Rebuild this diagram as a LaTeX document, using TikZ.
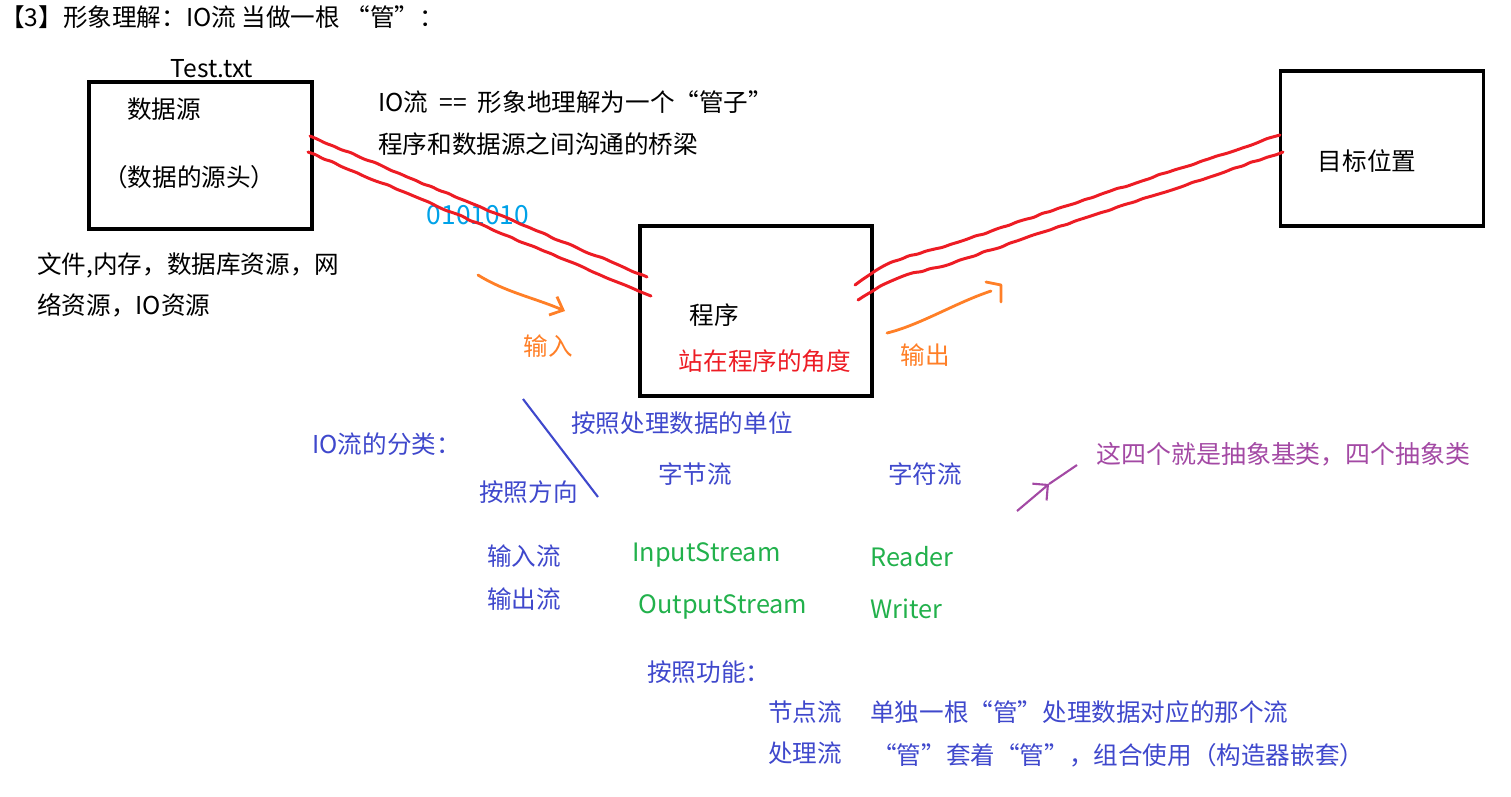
\documentclass[tikz,border=0pt]{standalone}
\usepackage{fontspec}
\setmainfont{Noto Sans CJK SC}
\usepackage{tikz}
\usetikzlibrary{arrows.meta, decorations.pathmorphing}

\definecolor{pipered}{RGB}{237,28,36}
\definecolor{flow}{RGB}{255,127,39}
\definecolor{bitcyan}{RGB}{0,162,232}
\definecolor{indigo}{RGB}{63,72,204}
\definecolor{grass}{RGB}{34,177,76}
\definecolor{plum}{RGB}{163,73,164}

\begin{document}
\pgfmathsetseed{5}
\begin{tikzpicture}[
    x=0.02cm, y=-0.02cm,
    box/.style={draw, rectangle, line width=2pt, inner sep=0pt},
    txt/.style={inner sep=0pt, anchor=west, font=\fontsize{14pt}{17pt}\selectfont},
    ctxt/.style={txt, anchor=center},
    cls/.style={txt, text=indigo},
    api/.style={txt, text=grass, font=\fontsize{14.4pt}{17pt}\selectfont},
    pipe/.style={pipered, line width=1.7pt, line cap=round, decorate,
        decoration={random steps, segment length=5pt, amplitude=0.45pt}, rounded corners=1.5pt},
    hand/.style={flow, line width=1.6pt, line cap=round, line join=round}
]
\useasboundingbox (0,0) rectangle (1511,796);

% Title
\node[txt] (title) at (0,17) {【3】形象理解：IO流 当做一根 “管”：};

% Boxes
\node[box, minimum width=4.46cm, minimum height=2.94cm] (src) at (200.5,155.5) {};
\node[box, minimum width=4.64cm, minimum height=3.4cm] (prog) at (756,311) {};
\node[box, minimum width=4.06cm, minimum height=3.1cm] (dest) at (1382,148.5) {};

\node[ctxt] (testtxt) at (212,69) {Test.txt};
\node[ctxt] (srcname) at (164,109) {数据源};
\node[txt] (srcnote) at (103,177) {（数据的源头）};
\node[ctxt] (progname) at (714,315) {程序};
\node[ctxt, text=pipered] (view) at (765,361) {站在程序的角度};
\node[ctxt] (destname) at (1367,161) {目标位置};

% Notes
\node[txt] (kinds1) at (37,265) {文件,内存，数据库资源，网};
\node[txt] (kinds2) at (37,305) {络资源，IO资源};
\node[txt] (pipe1) at (378,102) {IO流\hspace{0.45em}==\hspace{0.45em}形象地理解为一个“管子”};
\node[txt] (pipe2) at (378,144) {程序和数据源之间沟通的桥梁};
\node[ctxt, text=bitcyan, font=\fontsize{15pt}{17pt}\selectfont] (bits) at (478,215) {0101010};
\node[ctxt, text=flow] (inlabel) at (548,346) {输入};
\node[ctxt, text=flow] (outlabel) at (925,355) {输出};

% Pipes
\coordinate (s1) at (310,136); \coordinate (p1) at (647,277);
\coordinate (s2) at (308,152); \coordinate (p2) at (651,296);
\coordinate (q1) at (855,285); \coordinate (t1) at (1280,135);
\coordinate (q2) at (858,300); \coordinate (t2) at (1283,152);
\draw[pipe] (s1) -- (p1);
\draw[pipe] (s2) -- (p2);
\draw[pipe] (q1) .. controls (875,270) and (895,258) .. (940,248) -- (t1);
\draw[pipe] (q2) .. controls (875,288) and (900,275) .. (940,267) -- (t2);

% Direction arrows
\coordinate (ina) at (478,275); \coordinate (inb) at (565,311);
\coordinate (outa) at (887,333); \coordinate (outb) at (991,291);
\draw[hand, -{Straight Barb[length=2.2mm, width=4mm]}] (ina) .. controls (505,292) and (535,298) .. (inb);
\draw[hand] (outa) .. controls (920,325) and (955,303) .. (outb);
\draw[hand] (986,282) -- (1001,285) -- (1001,302);

% Classification
\node[cls] (io) at (312,444) {IO流的分类：};
\node[cls] (byunit) at (571,423) {按照处理数据的单位};
\node[cls] (bydir) at (479,492) {按照方向};
\node[cls, anchor=center] (bytes) at (695,474) {字节流};
\node[cls, anchor=center] (chars) at (925,474) {字符流};
\coordinate (d1) at (523,399); \coordinate (d2) at (598,497);
\draw[indigo, line width=1.2pt] (d1) -- (d2);

\node[txt, text=plum, font=\fontsize{14.2pt}{17pt}\selectfont] (abstract) at (1096,454) {这四个就是抽象基类，四个抽象类};
\coordinate (m1) at (1017,511); \coordinate (m2) at (1049,484); \coordinate (m3) at (1077,465);
\draw[plum, line width=1.2pt, -{Straight Barb[length=2.2mm, width=4.4mm]}] (m1) -- (m2);
\draw[plum, line width=1.2pt] (m2) -- (m3);

\node[cls] (instream) at (487,556) {输入流};
\node[cls] (outstream) at (487,599) {输出流};
\node[api] (isname) at (632,555) {InputStream};
\node[api] (osname) at (638,607) {OutputStream};
\node[api] (reader) at (870,557) {Reader};
\node[api] (writer) at (870,609) {Writer};

% By function
\node[cls] (byfunc) at (647,672) {按照功能：};
\node[cls] (node) at (768,712) {节点流};
\node[cls] (nodenote) at (870,712) {单独一根“管”处理数据对应的那个流};
\node[cls] (proc) at (768,753) {处理流};
\node[cls] (procnote) at (872,755) {“管”套着“管”，组合使用（构造器嵌套）};

\end{tikzpicture}
\end{document}
